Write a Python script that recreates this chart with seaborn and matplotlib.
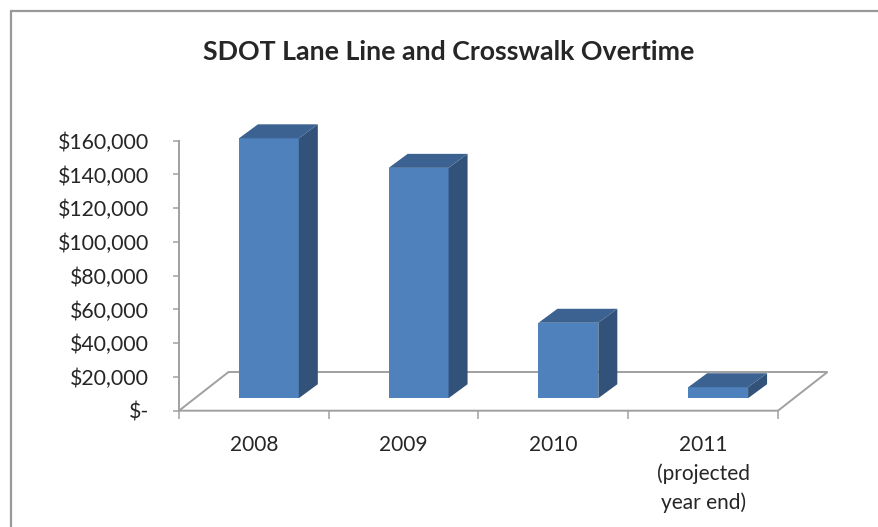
import numpy as np
import pandas as pd
import seaborn as sns
import matplotlib.pyplot as plt
from matplotlib.patches import Polygon
from matplotlib.lines import Line2D


# ===Data===
years = ['2008', '2009', '2010', '2011\n(projected\nyear end)']
overtime = [154000, 136500, 44700, 6500]
ytick_values = np.arange(0, 160001, 20000)
ytick_labels = ['$-'] + [f'${v:,.0f}' for v in ytick_values[1:]]

df = pd.DataFrame({'year': years, 'overtime': overtime})

# colours of the excel style 3d column
front_color = '#4F81BD'
side_color = '#32527A'
top_color = '#3B6291'
grid_gray = '#A0A0A0'

sns.set_style('white')
plt.rcParams['font.family'] = ['Lato', 'DejaVu Sans']

W, H = 879, 527
fig = plt.figure(figsize=(W / 100, H / 100), dpi=100)
# axes = front plane of the 3d box (pixels measured on the reference)
ax = fig.add_axes([179 / W, 1 - 410.7 / H, (778 - 179) / W, (410.7 - 140.7) / H])

sns.barplot(data=df, x='year', y='overtime', color=front_color,
            saturation=1, width=0.4, ax=ax, zorder=3)
ax.set_xlim(-0.5, 3.5)
ax.set_ylim(0, 160000)

# pixel -> data units, for the oblique depth
ux = ax.bbox.width / 4.0
uy = ax.bbox.height / 160000.0


def depth(px, py):
    return px / ux, py / uy


floor_dx, floor_dy = depth(49.5, 38.7)
shift_dx, shift_dy = depth(15, 12.5)
bar_dx, bar_dy = depth(19, 14)

# floor of the 3d box
floor = Polygon([(-0.5, 0), (3.5, 0), (3.5 + floor_dx, floor_dy),
                 (-0.5 + floor_dx, floor_dy)], closed=True,
                facecolor='white', edgecolor=grid_gray, lw=1.4,
                clip_on=False, zorder=1)
ax.add_patch(floor)

# push columns back into the box and add side / top faces
for p in ax.patches:
    if p is floor:
        continue
    p.set_x(p.get_x() + shift_dx)
    p.set_y(p.get_y() + shift_dy)
    p.set_edgecolor('none')
    p.set_clip_on(False)
    x0, b = p.get_x(), p.get_y()
    x1, h = x0 + p.get_width(), p.get_height()
    side = Polygon([(x1, b), (x1 + bar_dx, b + bar_dy),
                    (x1 + bar_dx, b + bar_dy + h), (x1, b + h)],
                   facecolor=side_color, edgecolor='none',
                   clip_on=False, zorder=3)
    top = Polygon([(x0, b + h), (x1, b + h), (x1 + bar_dx, b + h + bar_dy),
                   (x0 + bar_dx, b + h + bar_dy)],
                  facecolor=top_color, edgecolor='none',
                  clip_on=False, zorder=3)
    ax.add_patch(side)
    ax.add_patch(top)

# ===Axes styling===
for s in ['top', 'right', 'bottom']:
    ax.spines[s].set_visible(False)
ax.spines['left'].set_color(grid_gray)
ax.spines['left'].set_linewidth(1.4)

ax.set_yticks(ytick_values)
ax.set_yticklabels(ytick_labels)
ax.set_xticks(range(len(years)))
ax.set_xticklabels(years)
ax.set_xticks(np.arange(-0.5, 3.6, 1), minor=True)
ax.tick_params(axis='y', left=True, length=4.5, width=1.1, color=grid_gray,
               pad=17, labelsize=15.3)
ax.tick_params(axis='x', which='major', bottom=False, pad=14, labelsize=15)
ax.tick_params(axis='x', which='minor', bottom=True, length=5.5, width=1.1,
               color=grid_gray)
for t in ax.get_xticklabels():
    t.set_linespacing(1.5)
    t.set_verticalalignment('top')
ax.set_xlabel('')
ax.set_ylabel('')
ax.patch.set_alpha(0)

# title
fig.text(449 / W, 1 - 52 / H, 'SDOT Lane Line and Crosswalk Overtime',
         ha='center', va='center', fontsize=19.3, fontweight='bold')

# chart frame (only top and left edges fall inside the picture)
fig.add_artist(Line2D([11 / W, 11 / W], [0, 1 - 11 / H], color='#999999', lw=1.6))
fig.add_artist(Line2D([11 / W, 1], [1 - 11 / H, 1 - 11 / H], color='#999999', lw=1.6))

fig.savefig('out.png', dpi=100)
